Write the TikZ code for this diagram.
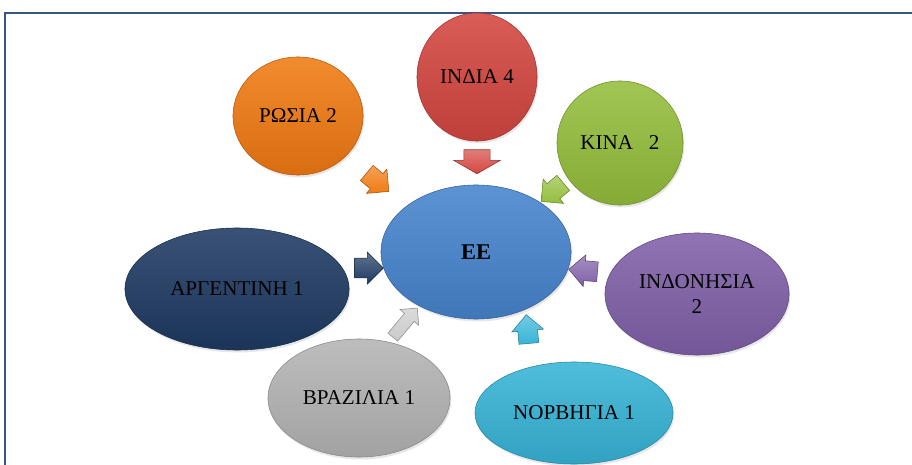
\documentclass[tikz,border=0pt]{standalone}
\usepackage{fontspec}
\setmainfont{Liberation Serif}
\usetikzlibrary{shapes.geometric,shapes.arrows,shadows}

\definecolor{framecol}{RGB}{55,85,125}
\definecolor{inred}{RGB}{212,70,64}
\definecolor{ruorange}{RGB}{240,122,18}
\definecolor{kigreen}{RGB}{148,190,60}
\definecolor{idpurple}{RGB}{128,96,168}
\definecolor{arnavy}{RGB}{30,58,98}
\definecolor{brgray}{RGB}{180,180,180}
\definecolor{nocyan}{RGB}{55,180,215}
\definecolor{eeblue}{RGB}{70,132,205}

\begin{document}
\begin{tikzpicture}[x=0.025cm,y=-0.025cm,
    every node/.style={font=\fontsize{15}{18}\selectfont},
    land/.style={ellipse, draw=#1!75!black, top color=#1!88!white,
      bottom color=#1!90!black, inner sep=0pt, align=center,
      drop shadow={opacity=0.2, shadow xshift=0.03cm, shadow yshift=-0.06cm}},
    tip/.style={single arrow, draw=#1!70!black, top color=#1!70!white,
      bottom color=#1, inner xsep=0pt, inner ysep=0.24cm,
      single arrow head extend=0.15cm, minimum height=0.72cm}]
      \useasboundingbox (0,0) rectangle (912,465);
      \draw[framecol, line width=1.3pt] (5,465) -- (5,13) -- (912,13);

      % the countries
      \node[land=inred, minimum width=3.0cm, minimum height=3.2cm] (in) at (477,77) {ΙΝΔΙΑ 4};
      \node[land=ruorange, minimum width=3.25cm, minimum height=2.95cm] (ru) at (298,116) {ΡΩΣΙΑ 2};
      \node[land=kigreen, minimum width=3.15cm, minimum height=3.1cm] (ki) at (620,143) {ΚΙΝΑ~~~2};
      \node[land=idpurple, minimum width=4.6cm, minimum height=3.05cm] (id) at (697,294) {ΙΝΔΟΝΗΣΙΑ\\2};
      \node[land=arnavy, minimum width=5.6cm, minimum height=3.05cm] (ar) at (237,289) {ΑΡΓΕΝΤΙΝΗ 1};
      \node[land=brgray, minimum width=4.55cm, minimum height=2.95cm] (br) at (359,398) {ΒΡΑΖΙΛΙΑ 1};
      \node[land=nocyan, minimum width=4.95cm, minimum height=2.55cm] (no) at (574,413) {ΝΟΡΒΗΓΙΑ 1};

      % the arrows into the centre
      \node[tip=inred, rotate=-90, minimum height=0.6cm, inner ysep=0.32cm,
        single arrow head extend=0.25cm, single arrow tip angle=120] (tin) at (477,158) {};
      \node[tip=ruorange, rotate=-40] (tru) at (374,179) {};
      \node[tip=kigreen, rotate=-140] (tki) at (556,189) {};
      \node[tip=arnavy, rotate=0] (tar) at (364,268) {};
      \node[tip=idpurple, rotate=175] (tid) at (588,271) {};
      \node[tip=brgray!70!white, rotate=50, minimum height=0.95cm, inner ysep=0.15cm] (tbr) at (403,325) {};
      \node[tip=nocyan, rotate=95] (tno) at (528,334) {};

      \node[land=eeblue, minimum width=4.75cm, minimum height=3.35cm, font=\fontsize{16}{19}\selectfont\bfseries] (ee) at (476,252) {ΕΕ};
    \end{tikzpicture}
\end{document}
